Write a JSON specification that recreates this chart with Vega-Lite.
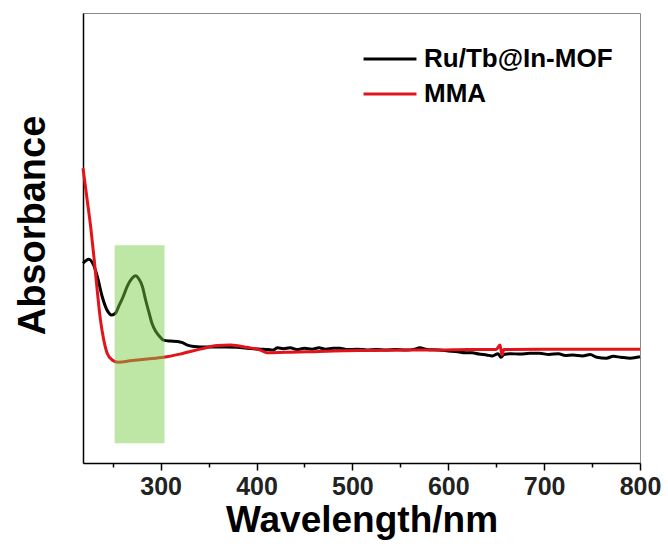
{
  "$schema": "https://vega.github.io/schema/vega-lite/v6.json",
  "autosize": "none",
  "width": 557,
  "height": 450,
  "padding": {"left": 83, "top": 13, "right": 28, "bottom": 87},
  "background": "white",
  "config": {
    "view": {"stroke": "#8c8c8c", "strokeWidth": 1},
    "font": "Liberation Sans"
  },
  "resolve": {"scale": {"color": "independent"}},
  "datasets": {
    "black": [
      {"w":219,"a":0.444},{"w":225,"a":0.453},{"w":230,"a":0.44},{"w":234,"a":0.414},{"w":239,"a":0.370},{"w":244,"a":0.340},{"w":249,"a":0.329},{"w":253,"a":0.333},{"w":256,"a":0.347},{"w":261,"a":0.37},{"w":265,"a":0.392},{"w":270,"a":0.41},{"w":274,"a":0.416},{"w":277,"a":0.41},{"w":281,"a":0.392},{"w":284,"a":0.365},{"w":288,"a":0.333},{"w":291,"a":0.31},{"w":295,"a":0.292},{"w":299,"a":0.281},{"w":303,"a":0.273},{"w":310,"a":0.271},{"w":317,"a":0.270},{"w":322,"a":0.268},{"w":328,"a":0.262},{"w":335,"a":0.259},{"w":341,"a":0.258},{"w":355,"a":0.258},{"w":369,"a":0.258},{"w":380,"a":0.257},{"w":390,"a":0.255},{"w":404,"a":0.253},{"w":412,"a":0.252},{"w":417,"a":0.251},{"w":422,"a":0.256},{"w":428,"a":0.254},{"w":435,"a":0.256},{"w":442,"a":0.252},{"w":450,"a":0.255},{"w":458,"a":0.253},{"w":465,"a":0.256},{"w":472,"a":0.253},{"w":480,"a":0.255},{"w":487,"a":0.255},{"w":495,"a":0.252},{"w":505,"a":0.253},{"w":515,"a":0.251},{"w":525,"a":0.252},{"w":535,"a":0.251},{"w":545,"a":0.252},{"w":556,"a":0.251},{"w":565,"a":0.253},{"w":570,"a":0.256},{"w":578,"a":0.252},{"w":590,"a":0.251},{"w":600,"a":0.249},{"w":610,"a":0.247},{"w":618,"a":0.245},{"w":625,"a":0.245},{"w":632,"a":0.242},{"w":640,"a":0.24},{"w":646,"a":0.238},{"w":652,"a":0.243},{"w":655,"a":0.235},{"w":658,"a":0.241},{"w":665,"a":0.243},{"w":675,"a":0.242},{"w":685,"a":0.244},{"w":695,"a":0.244},{"w":705,"a":0.241},{"w":715,"a":0.243},{"w":722,"a":0.239},{"w":730,"a":0.24},{"w":740,"a":0.238},{"w":748,"a":0.241},{"w":755,"a":0.235},{"w":765,"a":0.233},{"w":772,"a":0.237},{"w":780,"a":0.235},{"w":790,"a":0.233},{"w":800,"a":0.236}
    ],
    "red": [
      {"w":219,"a":0.655},{"w":223.4,"a":0.584},{"w":227,"a":0.525},{"w":230.4,"a":0.458},{"w":233.8,"a":0.384},{"w":237.2,"a":0.318},{"w":240.7,"a":0.273},{"w":244.2,"a":0.244},{"w":249.4,"a":0.229},{"w":256,"a":0.224},{"w":268,"a":0.227},{"w":286,"a":0.231},{"w":303,"a":0.235},{"w":320,"a":0.242},{"w":341,"a":0.253},{"w":359,"a":0.261},{"w":373,"a":0.262},{"w":390,"a":0.257},{"w":404,"a":0.251},{"w":411,"a":0.245},{"w":430,"a":0.246},{"w":452,"a":0.247},{"w":480,"a":0.249},{"w":521,"a":0.250},{"w":560,"a":0.251},{"w":591,"a":0.251},{"w":620,"a":0.252},{"w":650,"a":0.252},{"w":654,"a":0.262},{"w":656,"a":0.24},{"w":658,"a":0.252},{"w":700,"a":0.253},{"w":730,"a":0.253},{"w":760,"a":0.253},{"w":800,"a":0.253}
    ],
    "box": [{"x":252,"x2":304,"y":0.044,"y2":0.484}]
  },
  "layer": [
    {
      "data": {"name": "black"},
      "transform": [{"calculate": "'Ru/Tb@In-MOF'", "as": "series"}],
      "mark": {"type": "line", "strokeWidth": 3, "interpolate": "monotone"},
      "encoding": {
        "x": {"field": "w", "type": "quantitative",
          "scale": {"domain": [219, 800], "nice": false, "zero": false},
          "axis": {
            "values": [250,300,350,400,450,500,550,600,650,700,750,800],
            "labelExpr": "datum.value % 100 === 0 ? datum.label : ''",
            "tickSize": {"condition": {"test": "datum.value % 100 === 0", "value": 7}, "value": 4},
            "tickColor": "black", "tickWidth": 1.5,
            "domainColor": "black", "domainWidth": 1.5,
            "grid": false,
            "labelFont": "Liberation Sans", "labelFontWeight": "bold", "labelFontSize": 25, "labelColor": "#222",
            "labelPadding": 4, "labelFlush": false, "labelOverlap": false,
            "title": "Wavelength/nm", "titleFont": "Liberation Sans", "titleFontWeight": "bold", "titleFontSize": 37, "titleColor": "black", "titlePadding": 3
          }
        },
        "y": {"field": "a", "type": "quantitative",
          "scale": {"domain": [0, 1], "nice": false},
          "axis": {
            "ticks": false, "labels": false, "grid": false,
            "domainColor": "black", "domainWidth": 1.5,
            "title": "Absorbance", "titleFont": "Liberation Sans", "titleFontWeight": "bold", "titleFontSize": 38, "titleColor": "black", "titlePadding": 31,
            "titleY": 212
          }
        },
        "color": {"field": "series", "type": "nominal",
          "scale": {"domain": ["Ru/Tb@In-MOF"], "range": ["#000000"]},
          "legend": {
            "title": null, "orient": "none", "legendX": 279, "legendY": 18,
            "symbolType": "stroke", "symbolSize": 2800, "symbolStrokeWidth": 3,
            "labelFont": "Liberation Sans", "labelFontWeight": "bold", "labelFontSize": 26, "labelColor": "black",
            "labelOffset": 6, "labelLimit": 400
          }
        }
      }
    },
    {
      "data": {"name": "red"},
      "transform": [{"calculate": "'MMA'", "as": "series"}],
      "mark": {"type": "line", "strokeWidth": 3, "interpolate": "monotone"},
      "encoding": {
        "x": {"field": "w", "type": "quantitative"},
        "y": {"field": "a", "type": "quantitative"},
        "color": {"field": "series", "type": "nominal",
          "scale": {"domain": ["MMA"], "range": ["#e3131b"]},
          "legend": {
            "title": null, "orient": "none", "legendX": 279, "legendY": 53,
            "symbolType": "stroke", "symbolSize": 2800, "symbolStrokeWidth": 3,
            "labelFont": "Liberation Sans", "labelFontWeight": "bold", "labelFontSize": 26, "labelColor": "black",
            "labelOffset": 6, "labelLimit": 400
          }
        }
      }
    },
    {
      "data": {"name": "box"},
      "mark": {"type": "rect", "color": "#78cd46", "opacity": 0.48},
      "encoding": {
        "x": {"field": "x", "type": "quantitative"},
        "x2": {"field": "x2"},
        "y": {"field": "y", "type": "quantitative"},
        "y2": {"field": "y2"}
      }
    }
  ]
}
